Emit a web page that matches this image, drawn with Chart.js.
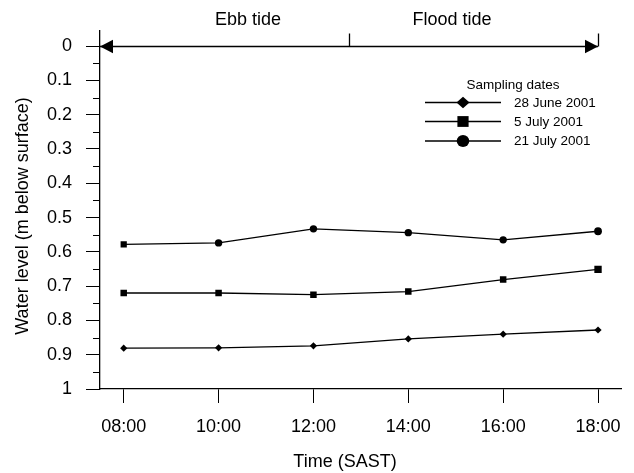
<!DOCTYPE html>
<html>
<head>
<meta charset="utf-8">
<script src="https://cdn.jsdelivr.net/npm/chart.js@4/dist/chart.umd.min.js"></script>
<style>
  html, body { margin: 0; padding: 0; background: #ffffff; }
  canvas { display: block; }
</style>
</head>
<body>
<canvas id="chart" width="634" height="473"></canvas>
<script>
// Sampling times (hours of the day) and their tick labels
const times = [8, 10, 12, 14, 16, 18];
const timeLabels = ['08:00', '10:00', '12:00', '14:00', '16:00', '18:00'];

// Water level, metres below surface, for each sampling date
const june28 = [0.881, 0.880, 0.874, 0.854, 0.840, 0.828];
const july5  = [0.720, 0.720, 0.725, 0.716, 0.681, 0.651];
const july21 = [0.578, 0.574, 0.533, 0.544, 0.565, 0.540];

const seriesNames = ['28 June 2001', '5 July 2001', '21 July 2001'];

// Depth axis ticks
const depthTicks  = [0, 0.1, 0.2, 0.3, 0.4, 0.5, 0.6, 0.7, 0.8, 0.9, 1];
const depthLabels = ['0', '0.1', '0.2', '0.3', '0.4', '0.5', '0.6', '0.7', '0.8', '0.9', '1'];
const depthMinorTicks = [0.05, 0.15, 0.25, 0.35, 0.45, 0.55, 0.65, 0.75, 0.85, 0.95];

// Tide phases over the sampling day
const tidePhases = ['Ebb tide', 'Flood tide'];
const tideTurn = 12.75;
const tideEnd = 18;

const FONT = '"Liberation Sans", Arial, Helvetica, sans-serif';
const INK = '#000000';

function points(values) {
  return times.map((t, i) => ({ x: t, y: values[i] }));
}

function drawMarker(ctx, style, x, y, size) {
  ctx.beginPath();
  if (style === 'diamond') {
    ctx.moveTo(x, y - size.h);
    ctx.lineTo(x + size.w, y);
    ctx.lineTo(x, y + size.h);
    ctx.lineTo(x - size.w, y);
    ctx.closePath();
  } else if (style === 'square') {
    ctx.rect(x - size.w, y - size.h, size.w * 2, size.h * 2);
  } else {
    ctx.ellipse(x, y, size.w, size.h, 0, 0, Math.PI * 2);
  }
  ctx.fill();
}

const annotations = {
  id: 'annotations',
  afterDraw(chart) {
    const ctx = chart.ctx;
    const xs = chart.scales.x;
    const ys = chart.scales.y;
    const area = chart.chartArea;
    ctx.save();
    ctx.strokeStyle = INK;
    ctx.fillStyle = INK;

    // minor ticks on the depth axis
    ctx.lineWidth = 1;
    depthMinorTicks.forEach(v => {
      const py = Math.round(ys.getPixelForValue(v)) + 0.5;
      ctx.beginPath();
      ctx.moveTo(area.left - 7, py);
      ctx.lineTo(area.left, py);
      ctx.stroke();
    });

    // tide arrow along the surface line
    const y0 = Math.round(ys.getPixelForValue(0)) + 0.5;
    const xStart = area.left;
    const xEnd = xs.getPixelForValue(tideEnd);
    const xTurn = xs.getPixelForValue(tideTurn);
    ctx.lineWidth = 1.3;
    ctx.beginPath();
    ctx.moveTo(xStart, y0);
    ctx.lineTo(xEnd, y0);
    ctx.stroke();
    // arrow heads
    ctx.beginPath();
    ctx.moveTo(xStart, y0);
    ctx.lineTo(xStart + 13, y0 - 6.8);
    ctx.lineTo(xStart + 13, y0 + 6.8);
    ctx.closePath();
    ctx.fill();
    ctx.beginPath();
    ctx.moveTo(xEnd, y0);
    ctx.lineTo(xEnd - 13, y0 - 6.8);
    ctx.lineTo(xEnd - 13, y0 + 6.8);
    ctx.closePath();
    ctx.fill();
    // phase boundary ticks
    ctx.lineWidth = 1.3;
    [xTurn, xEnd].forEach(px => {
      ctx.beginPath();
      ctx.moveTo(Math.round(px) + 0.5, y0 - 13);
      ctx.lineTo(Math.round(px) + 0.5, y0);
      ctx.stroke();
    });

    // phase labels
    ctx.font = '18px ' + FONT;
    ctx.textAlign = 'center';
    ctx.textBaseline = 'middle';
    ctx.fillText(tidePhases[0], 248, 20);
    ctx.fillText(tidePhases[1], 452, 20);

    // axis titles
    ctx.fillText('Time (SAST)', 345, 462);
    ctx.save();
    ctx.translate(23, 216);
    ctx.rotate(-Math.PI / 2);
    ctx.fillText('Water level (m below surface)', 0, 0);
    ctx.restore();

    // legend
    ctx.font = '13.5px ' + FONT;
    ctx.textAlign = 'center';
    ctx.fillText('Sampling dates', 513, 85);
    const legendRows = [
      { y: 102.5, style: 'diamond', size: { w: 6.5, h: 5.8 } },
      { y: 121.5, style: 'square', size: { w: 5.6, h: 5.4 } },
      { y: 141, style: 'circle', size: { w: 6.3, h: 6.0 } }
    ];
    ctx.textAlign = 'left';
    legendRows.forEach((row, i) => {
      ctx.lineWidth = 1.3;
      ctx.beginPath();
      ctx.moveTo(425, row.y);
      ctx.lineTo(501, row.y);
      ctx.stroke();
      drawMarker(ctx, row.style, 463, row.y, row.size);
      ctx.fillText(seriesNames[i], 514, row.y + 0.5);
    });

    ctx.restore();
  }
};

new Chart(document.getElementById('chart'), {
  type: 'line',
  data: {
    datasets: [
      {
        label: seriesNames[0],
        data: points(june28),
        borderColor: INK,
        borderWidth: 1.3,
        backgroundColor: INK,
        pointStyle: 'rectRot',
        pointRadius: 3.6,
        pointBorderWidth: 0,
        pointBackgroundColor: INK,
        tension: 0
      },
      {
        label: seriesNames[1],
        data: points(july5),
        borderColor: INK,
        borderWidth: 1.3,
        backgroundColor: INK,
        pointStyle: 'rect',
        pointRadius: [4.6, 4.6, 4.6, 4.6, 4.6, 5.2],
        pointBorderWidth: 0,
        pointBackgroundColor: INK,
        tension: 0
      },
      {
        label: seriesNames[2],
        data: points(july21),
        borderColor: INK,
        borderWidth: 1.3,
        backgroundColor: INK,
        pointStyle: ['rect', 'circle', 'circle', 'circle', 'circle', 'circle'],
        pointRadius: [4.4, 3.7, 3.7, 3.7, 3.7, 3.9],
        pointBorderWidth: 0,
        pointBackgroundColor: INK,
        tension: 0
      }
    ]
  },
  options: {
    responsive: false,
    animation: false,
    devicePixelRatio: 1,
    layout: { padding: { top: 31, right: 10, left: 0, bottom: 0 } },
    plugins: {
      legend: { display: false },
      tooltip: { enabled: false }
    },
    scales: {
      x: {
        type: 'linear',
        min: 7.5,
        max: 18.5,
        afterBuildTicks: s => { s.ticks = times.map(v => ({ value: v })); },
        afterFit: s => { s.height = 84; },
        ticks: {
          callback: v => timeLabels[times.indexOf(v)],
          font: { family: FONT, size: 18 },
          color: INK,
          padding: 13,
          maxRotation: 0,
          autoSkip: false
        },
        grid: {
          drawOnChartArea: false,
          drawTicks: true,
          tickLength: 14,
          color: INK,
          lineWidth: 1
        },
        border: { display: true, color: INK, width: 1.3 }
      },
      y: {
        type: 'linear',
        reverse: true,
        min: -0.044,
        max: 1,
        afterBuildTicks: s => { s.ticks = depthTicks.map(v => ({ value: v })); },
        afterFit: s => { s.width = 100; },
        ticks: {
          callback: (v, i) => depthLabels[i],
          font: { family: FONT, size: 18 },
          color: INK,
          padding: 14,
          autoSkip: false
        },
        grid: {
          drawOnChartArea: false,
          drawTicks: true,
          tickLength: 14,
          color: INK,
          lineWidth: 1
        },
        border: { display: true, color: INK, width: 1.3 }
      }
    }
  },
  plugins: [annotations]
});
</script>
</body>
</html>
